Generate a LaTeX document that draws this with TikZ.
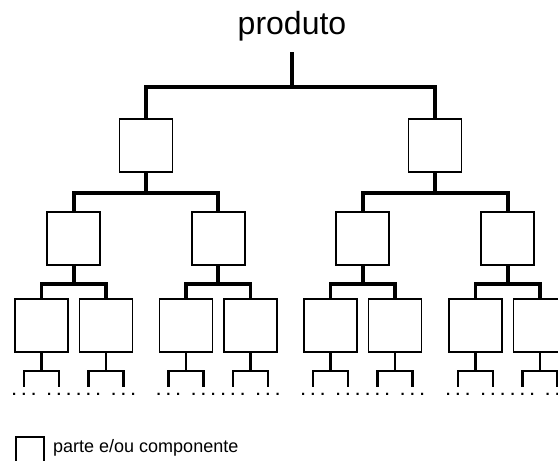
\documentclass[tikz,border=0pt]{standalone}
\usepackage{fontspec}
\setmainfont{Liberation Sans}
\usepackage{tikz}

\begin{document}
\begin{tikzpicture}[x=1pt, y=-1pt,
    partbox/.style={rectangle, draw=black, line width=1.7pt, minimum width=53pt, minimum height=53pt, inner sep=0pt},
    bus/.style={line width=3.6pt},
    legline/.style={line width=2.4pt},
    dotsnode/.style={font=\fontsize{15}{15}\selectfont\bfseries, inner sep=0pt, anchor=base}
]
    \useasboundingbox (0,0) rectangle (558,461);
    \clip (0,0) rectangle (558,461);

    \node[font=\fontsize{32}{32}\selectfont, anchor=base] (produto) at (292,34) {produto};
    \coordinate (root) at (292,52);

    % level 1
    \node[partbox] (a) at (146,145.5) {};
    \node[partbox] (b) at (435,145.5) {};

    % level 2
    \node[partbox] (a1) at (73.75,238.5) {};
    \node[partbox] (a2) at (218.25,238.5) {};
    \node[partbox] (b1) at (362.75,238.5) {};
    \node[partbox] (b2) at (507.75,238.5) {};

    % level 3 with their open branches
    \foreach \name/\x in {a11/41.5, a12/106, a21/186, a22/250.5, b11/330.5, b12/395, b21/475.5, b22/540}{
        \node[partbox] (\name) at (\x,325.5) {};
        \coordinate (\name-l) at (\x-17.5,387);
        \coordinate (\name-r) at (\x+17.5,387);
        \draw[legline] (\name.south) -- ++(0,18) -| (\name-l);
        \draw[legline] (\name.south) -- ++(0,18) -| (\name-r);
        \node[dotsnode] (\name-ld) at (\x-17.5,395) {. . .};
        \node[dotsnode] (\name-rd) at (\x+17.5,395) {. . .};
    }

    \draw[bus] (root) -- ++(0,35) -| (a.north);
    \draw[bus] (root) -- ++(0,35) -| (b.north);

    \draw[bus] (a.south) -- ++(0,20) -| (a1.north);
    \draw[bus] (a.south) -- ++(0,20) -| (a2.north);
    \draw[bus] (b.south) -- ++(0,20) -| (b1.north);
    \draw[bus] (b.south) -- ++(0,20) -| (b2.north);

    \draw[bus] (a1.south) -- ++(0,18) -| (a11.north);
    \draw[bus] (a1.south) -- ++(0,18) -| (a12.north);
    \draw[bus] (a2.south) -- ++(0,18) -| (a21.north);
    \draw[bus] (a2.south) -- ++(0,18) -| (a22.north);
    \draw[bus] (b1.south) -- ++(0,18) -| (b11.north);
    \draw[bus] (b1.south) -- ++(0,18) -| (b12.north);
    \draw[bus] (b2.south) -- ++(0,18) -| (b21.north);
    \draw[bus] (b2.south) -- ++(0,18) -| (b22.north);

    % legend
    \node[partbox, minimum width=28pt, minimum height=34pt, anchor=north west] (key) at (15,436) {};
    \node[font=\fontsize{18}{18}\selectfont, anchor=base west, inner sep=0pt] (keytext) at (53,452.5) {parte e/ou componente};
\end{tikzpicture}
\end{document}
